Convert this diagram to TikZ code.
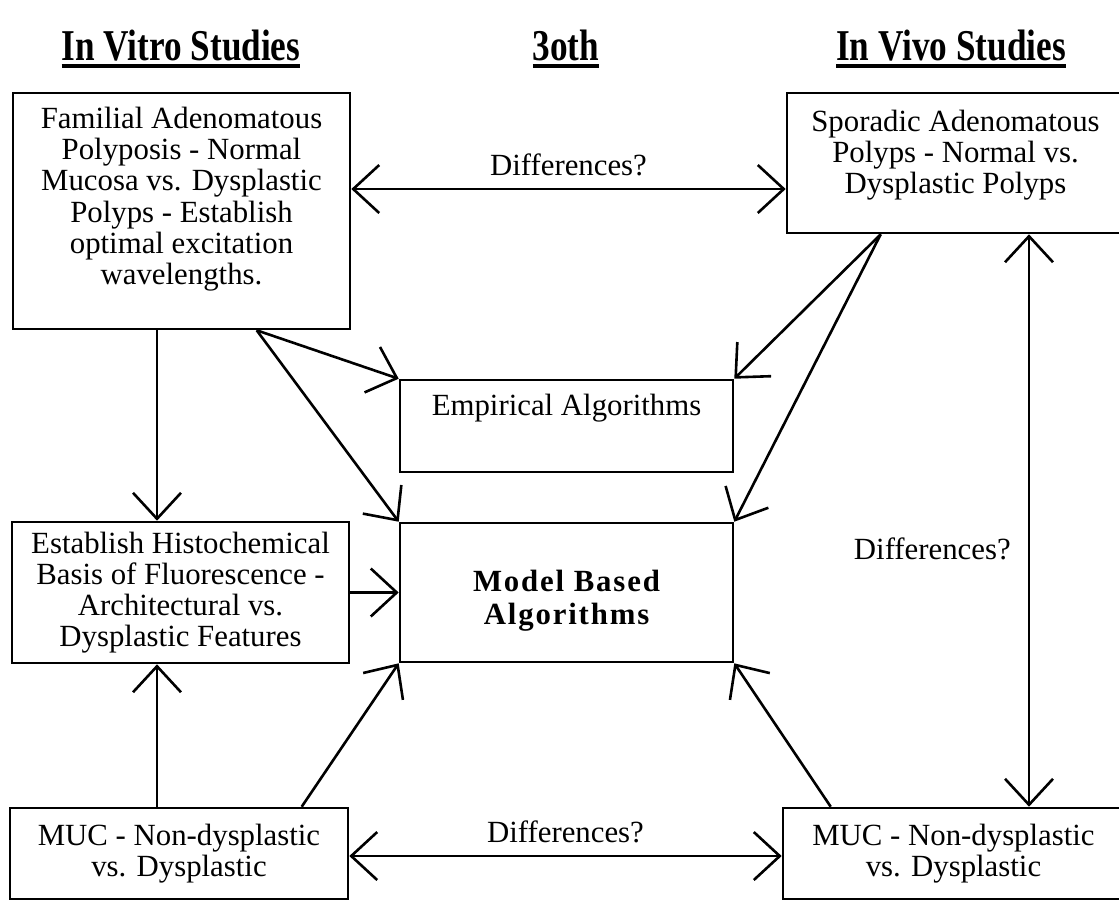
\documentclass[tikz,border=0pt]{standalone}
\usepackage{fontspec}
\setmainfont{Liberation Serif}
\newfontfamily\headfont[FakeStretch=0.8]{Liberation Serif}
\newfontfamily\modelfont[LetterSpace=6]{Liberation Serif}
\usetikzlibrary{positioning,arrows.meta}

% thick rule under the column titles
\newcommand{\hdrul}[1]{\setbox0\hbox{#1}\rlap{\rule[-4pt]{\wd0}{1.8pt}}\box0}

\begin{document}
\begin{tikzpicture}[x=0.5pt, y=-0.5pt,
  every node/.style={font=\fontsize{15.4}{15.6}\selectfont},
  box/.style ={draw, line width=1.3pt, inner sep=0pt, align=center},
  txt/.style ={align=center, inner sep=0pt},
  hdr/.style ={inner sep=0pt, anchor=base, font=\headfont\bfseries\fontsize{22}{24}\selectfont},
  lbl/.style ={inner sep=0pt},
  arr/.style ={-{Straight Barb[length=13pt, width=24pt]}, line width=1.3pt},
  darr/.style={{Straight Barb[length=13pt, width=24pt]}-{Straight Barb[length=13pt, width=24pt]},
               line width=1.3pt}]

\useasboundingbox (0,0) rectangle (1119,902);

%% -- column titles -------------------------------------------------
\node[hdr] (hvitro) at (181,60) {\hdrul{In Vitro Studies}};
\node[hdr] (hboth)  at (566,60) {\hdrul{3oth}};
\node[hdr] (hvivo)  at (951,60) {\hdrul{In Vivo Studies}};

%% -- boxes -----------------------------------------------------------
\node[box, minimum width=168.5pt, minimum height=118pt]  (fap)   at (181.5,211) {};
\node[box, minimum width=168.5pt, minimum height=70pt]   (spor)  at (955.5,163) {};
\node[box, minimum width=166.5pt, minimum height=46pt]   (emp)   at (566.5,426) {};
\node[box, minimum width=166.5pt, minimum height=69.5pt] (model) at (566.5,592.5) {};
\node[box, minimum width=168.5pt, minimum height=70.5pt] (hist)  at (180.5,592.5)
     {Establish Histochemical\\Basis of Fluorescence -\\Architectural vs.\\Dysplastic Features};
\node[box, minimum width=169pt, minimum height=45.5pt]   (mucL)  at (179,853.5)
     {MUC - Non-dysplastic\\vs. Dysplastic};
\node[box, minimum width=170.5pt, minimum height=45.5pt] (mucR)  at (953.5,853.5)
     {MUC - Non-dysplastic\\vs. Dysplastic};

%% -- box texts that sit off centre ------------------------------------
\node[txt, below=7.5pt of fap.north] (fapText)
     {Familial Adenomatous\\Polyposis - Normal\\Mucosa vs. Dysplastic\\Polyps - Establish\\optimal excitation\\wavelengths.};
\node[txt, below=9pt of spor.north] (sporText)
     {Sporadic Adenomatous\\Polyps - Normal vs.\\Dysplastic Polyps};
\node[txt, below=7.5pt of emp.north] (empText) {Empirical Algorithms};
\node[txt, font=\modelfont\bfseries\fontsize{15.4}{16.2}\selectfont]
     (modelText) at ([yshift=-4pt]model.center) {Model Based\\Algorithms};

%% -- helper coordinates -----------------------------------------------
\coordinate (colL)   at (157,0);
\coordinate (colR)   at (1029,0);
\coordinate (rowTop) at (0,189);
\coordinate (rowBot) at (0,856);
\coordinate (fapOut)  at ([xshift=122.5pt]fap.south west);
\coordinate (sporOut) at ([xshift=47.5pt]spor.south west);
\coordinate (mucLOut) at ([xshift=146.5pt]mucL.north west);
\coordinate (mucROut) at ([xshift=24.5pt]mucR.north west);

%% -- in vitro <-> in vivo ----------------------------------------------
\draw[darr] (fap.east |- rowTop) -- node[lbl, above=6pt] (diffTop) {Differences?} (spor.west |- rowTop);
\draw[darr] (mucL.east |- rowBot) -- node[lbl, above=6pt] (diffBot) {Differences?} (mucR.west |- rowBot);
\draw[darr] (spor.south -| colR) -- node[lbl, pos=0.55, left=8.5pt] (diffRight) {Differences?} (mucR.north -| colR);

%% -- left column -------------------------------------------------------
\draw[arr] (colL |- fap.south)  -- (colL |- hist.north);
\draw[arr] (colL |- mucL.north) -- (colL |- hist.south);
\draw[arr] (hist.east) -- (hist.east -| model.west);

%% -- into the algorithm boxes -------------------------------------------
\draw[arr] (fapOut)  -- (emp.north west);
\draw[arr] (fapOut)  -- (model.north west);
\draw[arr] (sporOut) -- (emp.north east);
\draw[arr] (sporOut) -- (model.north east);
\draw[arr] (mucLOut) -- (model.south west);
\draw[arr] (mucROut) -- (model.south east);
\end{tikzpicture}
\end{document}
